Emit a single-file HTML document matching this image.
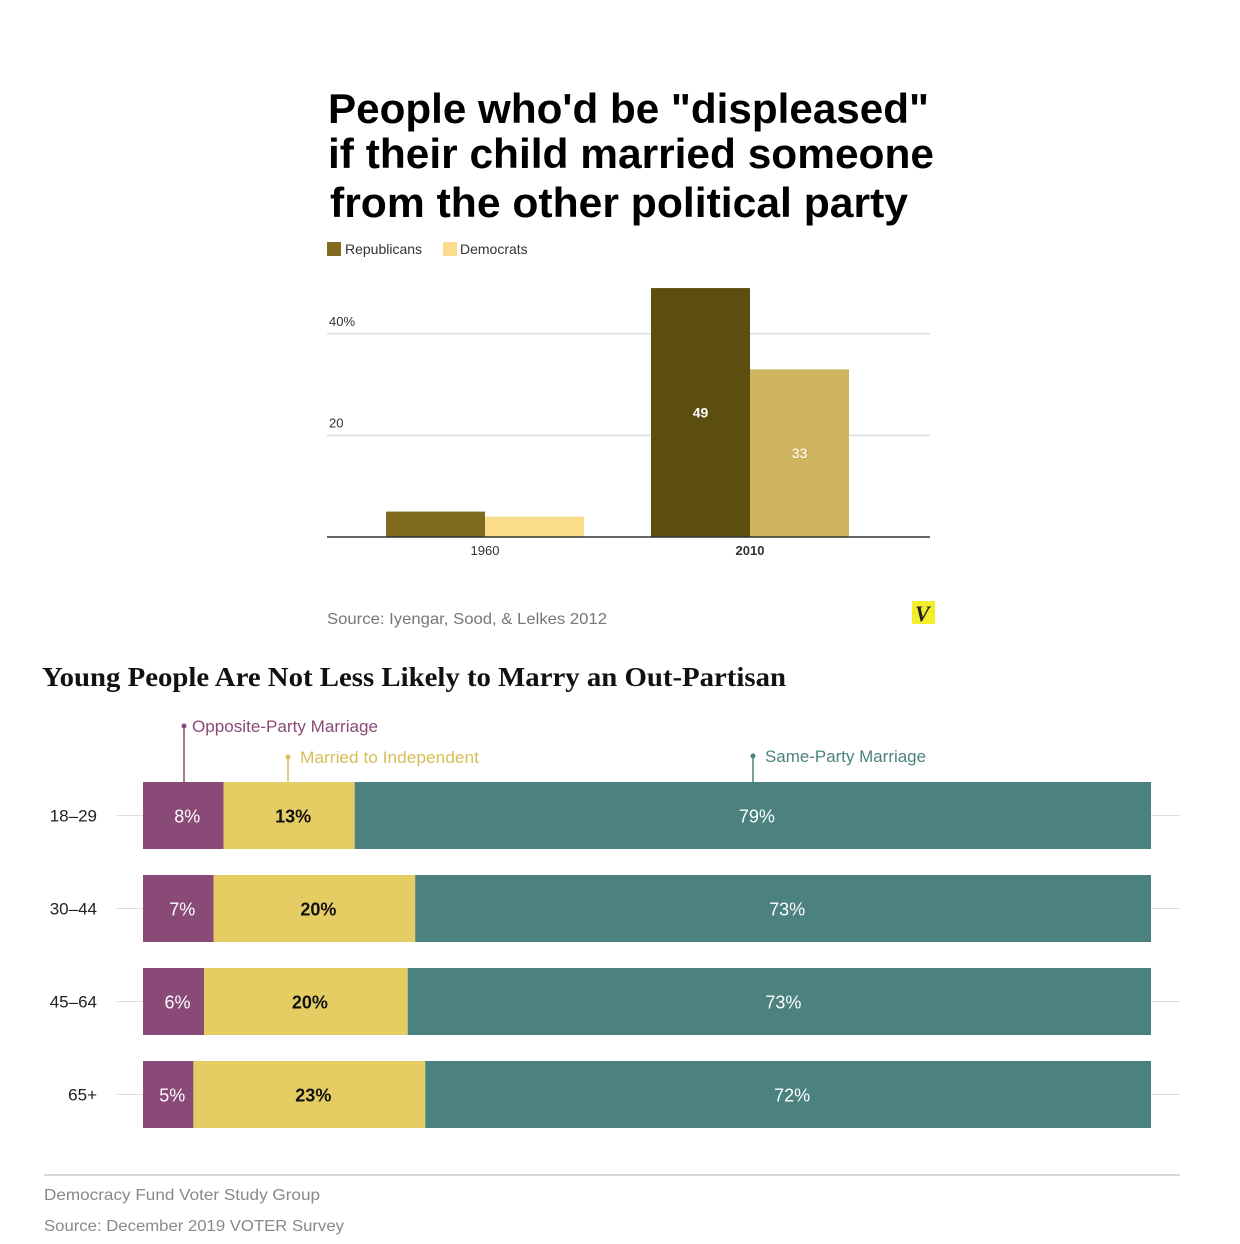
<!DOCTYPE html>
<html><head><meta charset="utf-8"><style>
html,body{margin:0;padding:0;background:#fff;}
svg{display:block;}
</style></head><body>
<svg id="page" width="1240" height="1244" viewBox="0 0 1240 1244" xmlns="http://www.w3.org/2000/svg">
<g font-family="Liberation Sans, sans-serif" font-weight="bold" font-size="42" fill="#000">
<text x="328" y="123" textLength="601" lengthAdjust="spacingAndGlyphs">People who'd be "displeased"</text>
<text x="328" y="168" textLength="606" lengthAdjust="spacingAndGlyphs">if their child married someone</text>
<text x="330" y="217" textLength="578" lengthAdjust="spacingAndGlyphs">from the other political party</text>
</g>
<g font-family="Liberation Sans, sans-serif" font-size="14" fill="#333">
<rect x="327" y="242" width="14" height="14" fill="#7f6a1f"/>
<text x="345" y="254">Republicans</text>
<rect x="443" y="242" width="14" height="14" fill="#fbdc8a"/>
<text x="460" y="254">Democrats</text>
</g>
<g id="top-plot"></g>
<text x="327" y="624" font-family="Liberation Sans, sans-serif" font-size="16" fill="#777" textLength="280" lengthAdjust="spacingAndGlyphs">Source: Iyengar, Sood, &amp; Lelkes 2012</text>
<rect x="912" y="601" width="23" height="23" fill="#f2ef2a"/>
<text x="915" y="621" font-family="Liberation Serif, serif" font-style="italic" font-weight="bold" font-size="22" fill="#222">V</text>
<text x="42" y="686" font-family="Liberation Serif, serif" font-weight="bold" font-size="27" fill="#111" textLength="744" lengthAdjust="spacingAndGlyphs">Young People Are Not Less Likely to Marry an Out-Partisan</text>
<g id="bottom-plot"></g>
<line x1="44" y1="1175" x2="1180" y2="1175" stroke="#ccc" stroke-width="1.5"/>
<text x="44" y="1200" font-family="Liberation Sans, sans-serif" font-size="16" fill="#888" textLength="276" lengthAdjust="spacingAndGlyphs">Democracy Fund Voter Study Group</text>
<text x="44" y="1231" font-family="Liberation Sans, sans-serif" font-size="16" fill="#888" textLength="300" lengthAdjust="spacingAndGlyphs">Source: December 2019 VOTER Survey</text>
</svg>
<script>
const topYears = ["1960", "2010"];
const topRepublicans = [5, 49];
const topDemocrats = [4, 33];
const topTicks = [20, 40];
const topTickLabels = ["20", "40%"];

const ageGroups = ["18–29", "30–44", "45–64", "65+"];
const oppositeParty = [8, 7, 6, 5];
const marriedIndependent = [13, 20, 20, 23];
const sameParty = [79, 73, 73, 72];

const NS = "http://www.w3.org/2000/svg";
function mk(tag, attrs, parent){const e=document.createElementNS(NS,tag);for(const k in attrs)e.setAttribute(k,attrs[k]);parent.appendChild(e);return e;}

const tp = document.getElementById('top-plot');
const base = 537, pxPer = 5.08;
const yT = v => base - v*pxPer;
const groupX = i => 386 + i*265;
topTicks.forEach((t,i)=>{
  const l = mk('line',{x1:327,x2:930,y1:yT(t),y2:yT(t),stroke:'#e3e3e3','stroke-width':2},tp);
  
  
  const tx = mk('text',{x:329,y:yT(t)-8,'font-family':'Liberation Sans, sans-serif','font-size':13,fill:'#333'},tp);
  tx.textContent = topTickLabels[i];
  
  
});
topYears.forEach((yr,i)=>{
  const x = groupX(i);
  const repCol = i===1 ? '#5c4e0f' : '#7f6a1f';
  const demCol = i===1 ? '#cfb460' : '#fbdc8a';
  const r = mk('rect',{x:x,y:yT(topRepublicans[i]),width:99,height:topRepublicans[i]*pxPer,fill:repCol},tp);
  
  
  const d = mk('rect',{x:x+99,y:yT(topDemocrats[i]),width:99,height:topDemocrats[i]*pxPer,fill:demCol},tp);
  
  
  if(i===1){
    const a = mk('text',{x:x+49.5,y:yT(topRepublicans[i]/2)+5,'text-anchor':'middle','font-family':'Liberation Sans, sans-serif','font-size':14,'font-weight':'bold',fill:'#fff'},tp);
    a.textContent = topRepublicans[i];
    
    
    const b = mk('text',{x:x+148.5,y:yT(topDemocrats[i]/2)+5,'text-anchor':'middle','font-family':'Liberation Sans, sans-serif','font-size':14,fill:'#fff'},tp);
    b.textContent = topDemocrats[i];
    
    
  }
  const lab = mk('text',{x:x+99,y:555,'text-anchor':'middle','font-family':'Liberation Sans, sans-serif','font-size':13,'font-weight':i===1?'bold':'normal',fill:'#333'},tp);
  lab.textContent = yr;
  
  
});
const ax = mk('line',{x1:327,x2:930,y1:base,y2:base,stroke:'#333','stroke-width':1.5},tp);



const bp = document.getElementById('bottom-plot');
const x0 = 143, W = 1008;
const rowY = i => 782 + i*93, rowH = 67;
const segColors = ['#8a4a77','#e6cd63','#4b827f'];
const segText = ['#fff','#111','#fff'];
const segNames = ['opposite-party','married-independent','same-party'];
ageGroups.forEach((g,i)=>{
  const vals = [oppositeParty[i], marriedIndependent[i], sameParty[i]];
  const tot = vals.reduce((a,b)=>a+b,0);
  const cy = rowY(i)+rowH/2;
  const gl = mk('line',{x1:117,x2:1180,y1:cy,y2:cy,stroke:'#ddd','stroke-width':1},bp);
  
  
  const lt = mk('text',{x:97,y:cy+6,'text-anchor':'end','font-family':'Liberation Sans, sans-serif','font-size':17,fill:'#222'},bp);
  lt.textContent = g;
  
  
  let x = x0;
  vals.forEach((v,j)=>{
    const w = v/tot*W;
    const r = mk('rect',{x:x,y:rowY(i),width:w,height:rowH,fill:segColors[j]},bp);
    
    
    const t = mk('text',{x:x+w/2+4,y:cy+7,'text-anchor':'middle','font-family':'Liberation Sans, sans-serif','font-size':18,'font-weight':j===1?'bold':'normal',fill:segText[j]},bp);
    t.textContent = v+'%';
    
    
    x += w;
  });
});
const ann = [
  {x:184,y:726,label:'Opposite-Party Marriage',c:'#8a4a77',w:186},
  {x:288,y:757,label:'Married to Independent',c:'#d7be55',w:179},
  {x:753,y:756,label:'Same-Party Marriage',c:'#4b827f',w:161}
];
ann.forEach(a=>{
  const l = mk('line',{x1:a.x,x2:a.x,y1:a.y,y2:782,stroke:a.c,'stroke-width':1.5},bp);
  
  
  const c = mk('circle',{cx:a.x,cy:a.y,r:2.5,fill:a.c},bp);
  
  
  const t = mk('text',{x:a.x+(a.x===184?8:12),y:a.y+6,'font-family':'Liberation Sans, sans-serif','font-size':17,fill:a.c,textLength:a.w,lengthAdjust:'spacingAndGlyphs'},bp);
  t.textContent = a.label;
  
  
});
</script>
</body></html>
